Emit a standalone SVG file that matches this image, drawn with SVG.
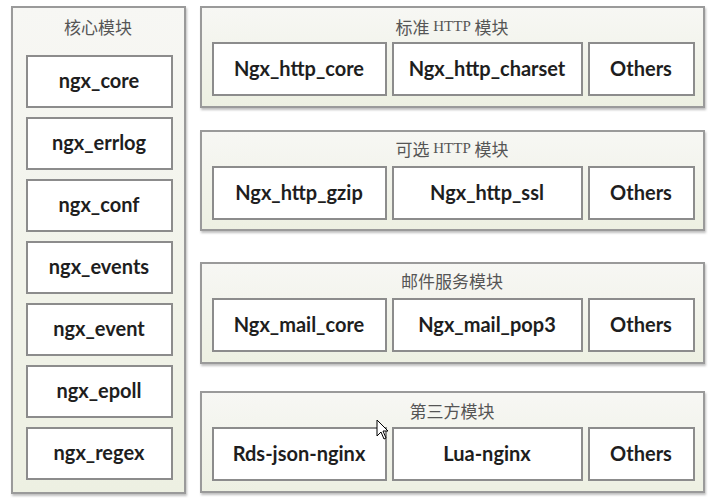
<svg xmlns="http://www.w3.org/2000/svg" width="722" height="498" viewBox="0 0 722 498">
<defs>
<linearGradient id="pg" x1="0" y1="0" x2="0" y2="1">
<stop offset="0" stop-color="#f7f7f4"/>
<stop offset="1" stop-color="#edf0e2"/>
</linearGradient>
<filter id="sh" x="-5%" y="-5%" width="110%" height="115%">
<feDropShadow dx="1" dy="2" stdDeviation="1.2" flood-color="#000" flood-opacity="0.25"/>
</filter>
</defs>
<style>
.panel{fill:url(#pg);stroke:#9a9a9a;stroke-width:2;filter:url(#sh)}
.box{fill:#fff;stroke:#8c8c8c;stroke-width:2}
.lbl{font-family:Lato,"Open Sans","Liberation Sans",sans-serif;font-weight:bold;font-size:20px;fill:#1e1e1e;text-anchor:middle;dominant-baseline:central}
.ttl{font-family:"Noto Sans CJK SC","Liberation Sans",sans-serif;font-size:17px;fill:#555;text-anchor:middle;dominant-baseline:central}
.lat{font-family:"Liberation Serif",serif;font-size:15px}
</style>
<rect width="722" height="498" fill="#fff"/>
<g id="core">
<rect class="panel" x="12" y="7" width="173" height="486"/>
<text class="ttl" x="98" y="26">核心模块</text>
</g>
<g id="ngx_core"><rect class="box" x="27" y="56" width="145" height="51"/><text class="lbl" x="99" y="80">ngx_core</text></g>
<g id="ngx_errlog"><rect class="box" x="27" y="118" width="145" height="51"/><text class="lbl" x="99" y="142">ngx_errlog</text></g>
<g id="ngx_conf"><rect class="box" x="27" y="180" width="145" height="51"/><text class="lbl" x="99" y="204">ngx_conf</text></g>
<g id="ngx_events"><rect class="box" x="27" y="242" width="145" height="51"/><text class="lbl" x="99" y="266">ngx_events</text></g>
<g id="ngx_event"><rect class="box" x="27" y="304" width="145" height="51"/><text class="lbl" x="99" y="328">ngx_event</text></g>
<g id="ngx_epoll"><rect class="box" x="27" y="366" width="145" height="51"/><text class="lbl" x="99" y="390">ngx_epoll</text></g>
<g id="ngx_regex"><rect class="box" x="27" y="428" width="145" height="51"/><text class="lbl" x="99" y="452">ngx_regex</text></g>

<g id="std_http">
<rect class="panel" x="201" y="7" width="503" height="100"/>
<text class="ttl" x="452" y="26">标准 <tspan class="lat">HTTP</tspan> 模块</text>
</g>
<g id="http_core"><rect class="box" x="213" y="43" width="173" height="52"/><text class="lbl" x="299" y="68">Ngx_http_core</text></g>
<g id="http_charset"><rect class="box" x="393" y="43" width="189" height="52"/><text class="lbl" x="487" y="68">Ngx_http_charset</text></g>
<g id="others1"><rect class="box" x="589" y="43" width="105" height="52"/><text class="lbl" x="641" y="68">Others</text></g>

<g id="opt_http">
<rect class="panel" x="201" y="131" width="503" height="99"/>
<text class="ttl" x="452" y="148">可选 <tspan class="lat">HTTP</tspan> 模块</text>
</g>
<g id="http_gzip"><rect class="box" x="213" y="167" width="173" height="52"/><text class="lbl" x="299" y="192">Ngx_http_gzip</text></g>
<g id="http_ssl"><rect class="box" x="393" y="167" width="189" height="52"/><text class="lbl" x="487" y="192">Ngx_http_ssl</text></g>
<g id="others2"><rect class="box" x="589" y="167" width="105" height="52"/><text class="lbl" x="641" y="192">Others</text></g>

<g id="mail">
<rect class="panel" x="201" y="263" width="503" height="100"/>
<text class="ttl" x="452" y="280">邮件服务模块</text>
</g>
<g id="mail_core"><rect class="box" x="213" y="299" width="173" height="52"/><text class="lbl" x="299" y="324">Ngx_mail_core</text></g>
<g id="mail_pop3"><rect class="box" x="393" y="299" width="189" height="52"/><text class="lbl" x="487" y="324">Ngx_mail_pop3</text></g>
<g id="others3"><rect class="box" x="589" y="299" width="105" height="52"/><text class="lbl" x="641" y="324">Others</text></g>

<g id="third">
<rect class="panel" x="201" y="392" width="503" height="100"/>
<text class="ttl" x="452" y="410">第三方模块</text>
</g>
<g id="rds"><rect class="box" x="213" y="428" width="173" height="52"/><text class="lbl" x="299" y="453">Rds-json-nginx</text></g>
<g id="lua"><rect class="box" x="393" y="428" width="189" height="52"/><text class="lbl" x="487" y="453">Lua-nginx</text></g>
<g id="others4"><rect class="box" x="589" y="428" width="105" height="52"/><text class="lbl" x="641" y="453">Others</text></g>
<g id="connectors"/>
<path d="M377,420 L377,436 L381,432 L384,439 L386,438 L383,431 L388,431 Z" fill="#fff" stroke="#000" stroke-width="1"/>
</svg>
